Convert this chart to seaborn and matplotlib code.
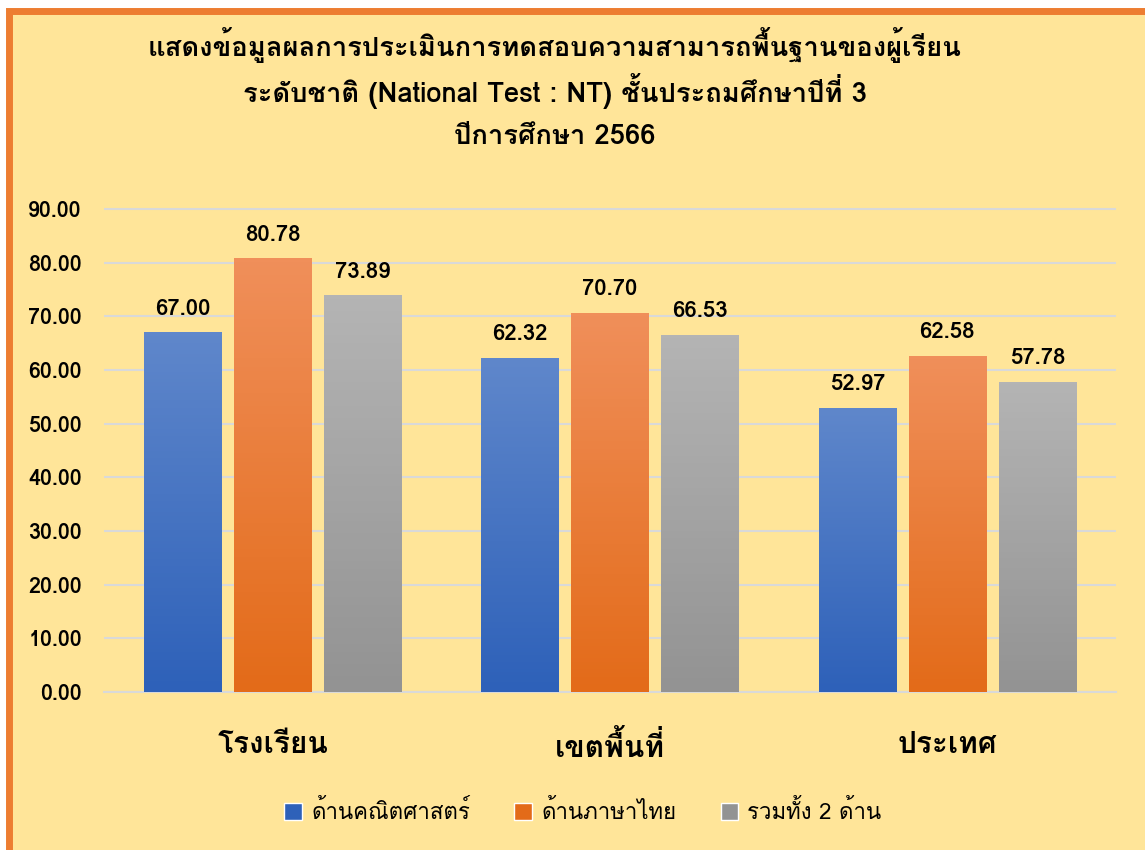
import numpy as np
import pandas as pd
import matplotlib
matplotlib.use('Agg')
import matplotlib.pyplot as plt
from matplotlib import font_manager
from matplotlib.ft2font import FT2Font
from matplotlib.patches import Rectangle
from matplotlib.colors import LinearSegmentedColormap
import seaborn as sns

# Data
groups = ['โรงเรียน', 'เขตพื้นที่', 'ประเทศ']
series = ['ด้านคณิตศาสตร์', 'ด้านภาษาไทย', 'รวมทั้ง 2 ด้าน']
math_scores = [67.00, 62.32, 52.97]
thai_scores = [80.78, 70.70, 62.58]
total_scores = [73.89, 66.53, 57.78]
y_ticks = [0, 10, 20, 30, 40, 50, 60, 70, 80, 90]
title_lines = ['แสดงข้อมูลผลการประเมินการทดสอบความสามารถพื้นฐานของผู้เรียน',
               'ระดับชาติ (National Test : NT) ชั้นประถมศึกษาปีที่ 3',
               'ปีการศึกษา 2566']

# find a font that has Thai glyphs
thai_fonts = []
for f in font_manager.fontManager.ttflist:
    try:
        if 0x0E01 in FT2Font(f.fname).get_charmap():
            if f.name not in thai_fonts:
                thai_fonts.append(f.name)
    except Exception:
        pass

sns.set_theme(style='white')
plt.rcParams['font.family'] = thai_fonts + ['DejaVu Sans']
plt.rcParams['text.color'] = 'black'
plt.rcParams['xtick.color'] = 'black'
plt.rcParams['ytick.color'] = 'black'

df = pd.DataFrame({
    'group': groups * 3,
    'series': [series[0]] * 3 + [series[1]] * 3 + [series[2]] * 3,
    'score': math_scores + thai_scores + total_scores,
})

bg = '#FFE599'
palette = {series[0]: '#4472C4', series[1]: '#ED7D31', series[2]: '#A5A5A5'}
grads = {series[0]: ('#5F87CB', '#2E61B9'),
         series[1]: ('#F08F5A', '#E36B19'),
         series[2]: ('#B4B4B4', '#939393')}

fig = plt.figure(figsize=(11.45, 8.5), dpi=100, facecolor='white')
# orange frame
fig.patches.append(Rectangle((8.5 / 1145, -0.05), 1.1, 1.05 - 10.5 / 850,
                             transform=fig.transFigure, facecolor=bg,
                             edgecolor='#ED7D31', linewidth=5, zorder=-10))

ymax = 91
ax = fig.add_axes([104 / 1145, 158 / 850, 1012 / 1145, 53.67 * ymax / 10 / 850])
ax.patch.set_alpha(0)

sns.barplot(data=df, x='group', y='score', hue='series', palette=palette,
            width=0.8, gap=0.14, ax=ax, legend=True, saturation=1, zorder=3,
            linewidth=0)

# gradient fill on the bars
for cont, name in zip(ax.containers, series):
    cmap = LinearSegmentedColormap.from_list(name, [grads[name][1], grads[name][0]])
    for bar in cont:
        bar.set_facecolor('none')
        bar.set_edgecolor('none')
        x0, y0 = bar.get_x(), bar.get_y()
        w, h = bar.get_width(), bar.get_height()
        im = ax.imshow(np.linspace(0, 1, 100).reshape(-1, 1), cmap=cmap, aspect='auto',
                       origin='lower', extent=[x0, x0 + w, y0, y0 + h], zorder=3)
        im.set_clip_path(bar)
    ax.bar_label(cont, fmt='%.2f', padding=10, fontsize=16, fontweight='bold')

ax.set_xlim(-0.5, 2.5)
ax.set_ylim(0, ymax)
ax.set_yticks(y_ticks)
ax.set_yticklabels([f'{v:.2f}' for v in y_ticks], fontsize=15.5, fontweight='bold')
ax.tick_params(axis='y', length=0, pad=16)
ax.tick_params(axis='x', length=0, pad=28, labelsize=21.5)
for lbl in ax.get_xticklabels():
    lbl.set_fontweight('bold')
ax.grid(axis='y', color='#D9D9D9', linewidth=1.5, zorder=0)
ax.set_xlabel('')
ax.set_ylabel('')
for s in ['top', 'right', 'left']:
    ax.spines[s].set_visible(False)
ax.spines['bottom'].set_color('#D9D9D9')
ax.spines['bottom'].set_linewidth(1.5)

# legend
handles = [Rectangle((0, 0), 1, 1, facecolor=grads[s][1]) for s in series]
ax.get_legend().remove()
fig.legend(handles, series, loc='center', bbox_to_anchor=(583 / 1145, 1 - 812 / 850),
           ncol=3, frameon=False, fontsize=16, handlelength=0.8, handleheight=0.8,
           columnspacing=2.0, handletextpad=0.4)

for i, line in enumerate(title_lines):
    fig.text(555 / 1145, 1 - (45 + 46 * i) / 850, line, ha='center', va='center',
             fontsize=19.7, fontweight='bold')

fig.savefig('out.png', dpi=100, facecolor='white')
